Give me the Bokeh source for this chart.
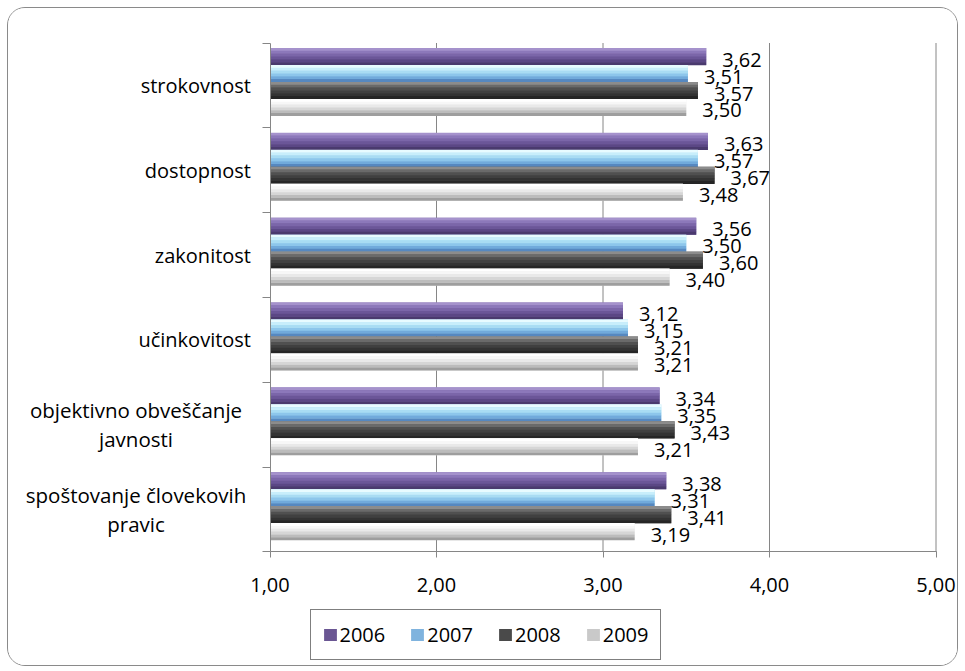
from bokeh.plotting import figure
from bokeh.models import Range1d, FixedTicker, Legend, LegendItem
from bokeh.core.properties import value
from bokeh.embed import file_html
from bokeh.resources import INLINE

# ---- data ----
categories = ["strokovnost", "dostopnost", "zakonitost", "učinkovitost",
              "objektivno obveščanje javnosti", "spoštovanje človekovih pravic"]
category_lines = [["strokovnost"], ["dostopnost"], ["zakonitost"], ["učinkovitost"],
                  ["objektivno obveščanje", "javnosti"], ["spoštovanje človekovih", "pravic"]]
years = ["2006", "2007", "2008", "2009"]
v2006 = [3.62, 3.63, 3.56, 3.12, 3.34, 3.38]
v2007 = [3.51, 3.57, 3.50, 3.15, 3.35, 3.31]
v2008 = [3.57, 3.67, 3.60, 3.21, 3.43, 3.41]
v2009 = [3.50, 3.48, 3.40, 3.21, 3.21, 3.19]
x_ticks = [1, 2, 3, 4, 5]
x_tick_labels = ["1,00", "2,00", "3,00", "4,00", "5,00"]

# ---- style / layout ----
FONT = "Open Sans"
GRID = "#868686"
gradients = [
    ["#a592cc", "#8c78ba", "#7b66a9", "#6b5698", "#5b4785", "#4a3a6e"],
    ["#e8fbff", "#c8eefb", "#a9dcf3", "#8dc6eb", "#71aadb", "#5688c0"],
    ["#8c8c8c", "#6a6a6a", "#505050", "#404040", "#333333", "#252525"],
    ["#ffffff", "#f7f7f7", "#e9e9e9", "#d6d6d6", "#bcbcbc", "#9e9e9e"],
]
swatches = ["#6a5693", "#7fb3de", "#4a4a4a", "#c9c9c9"]

W, H = 951, 659
X0_PX, X_PPU = 261.5, 166.5      # canvas px of x=1, px per x unit
Y6_PX, Y_PPU = 34.5, 84.83       # canvas px of top category boundary, px per y unit
n_cat = len(categories)

x_start = 1 - X0_PX / X_PPU
x_end = x_start + W / X_PPU
y_end = n_cat + Y6_PX / Y_PPU
y_start = y_end - H / Y_PPU

p = figure(width=W, height=H, output_backend="svg", toolbar_location=None,
           x_range=Range1d(x_start, x_end), y_range=Range1d(y_start, y_end),
           min_border=0, min_border_left=0, min_border_right=0,
           min_border_top=0, min_border_bottom=0)
p.styles = {"border": "1.5px solid #8a8a8a", "border-radius": "18px",
            "overflow": "hidden", "margin": "7px 0 0 7px"}
p.background_fill_color = "white"
p.border_fill_color = "white"
p.outline_line_color = None
p.xgrid.grid_line_color = None
p.ygrid.grid_line_color = None

# x axis fixed at y=0
p.xaxis.fixed_location = 0
p.xaxis.bounds = (x_ticks[0], x_ticks[-1])
p.xaxis.ticker = FixedTicker(ticks=x_ticks)
p.xaxis.major_label_overrides = dict(zip(x_ticks, x_tick_labels))
p.xaxis.axis_line_color = GRID
p.xaxis.major_tick_line_color = GRID
p.xaxis.major_tick_out = 6
p.xaxis.major_tick_in = 0
p.xaxis.minor_tick_line_color = None
p.xaxis.major_label_text_font = FONT
p.xaxis.major_label_text_font_size = "20px"
p.xaxis.major_label_text_color = "black"
p.xaxis.major_label_standoff = 20

# y axis fixed at x=1, ticks at category boundaries
p.yaxis.fixed_location = 1
p.yaxis.bounds = (0, n_cat)
p.yaxis.ticker = FixedTicker(ticks=list(range(n_cat + 1)))
p.yaxis.major_label_overrides = {i: "" for i in range(n_cat + 1)}
p.yaxis.axis_line_color = GRID
p.yaxis.major_tick_line_color = GRID
p.yaxis.major_tick_out = 8
p.yaxis.major_tick_in = 0
p.yaxis.minor_tick_line_color = None

# vertical gridlines at the x ticks, spanning the category area only
gx = x_ticks[1:]
p.segment(x0=gx, y0=[0] * len(gx), x1=gx, y1=[n_cat] * len(gx),
          line_color=GRID, line_width=1)

series = [v2006, v2007, v2008, v2009]
bar_h = 0.2
legend_items = []
for k, (yr, vals) in enumerate(zip(years, series)):
    ys = [n_cat - 0.5 - i + (1.5 - k) * bar_h + 0.04 for i in range(n_cat)]
    grad = gradients[k]
    n = len(grad)
    sh = bar_h / n
    p.hbar(y=ys, left=1, right=vals, height=bar_h, fill_color=grad[2], line_color=None)
    for j, col in enumerate(grad):
        sy = [y + bar_h / 2 - sh * (j + 0.5) for y in ys]
        p.hbar(y=sy, left=1, right=vals, height=sh * 1.05, fill_color=col, line_color=None)
    r = p.quad(left=[1], right=[1], top=[0], bottom=[0], fill_color=swatches[k],
               line_color=None)
    legend_items.append(LegendItem(label=yr, renderers=[r]))
    txt = [f"{v:.2f}".replace(".", ",") for v in vals]
    p.text(x=vals, y=ys, text=txt, x_offset=16, y_offset=3,
           text_baseline="middle", text_align="left",
           text_font=value(FONT), text_font_size="20px", text_color="black")

# category labels
right_x = 1 - 19 / X_PPU
center_x = 1 - 134 / X_PPU
dy = 14.5 / Y_PPU
for i, lines in enumerate(category_lines):
    yc = n_cat - 0.5 - i
    if len(lines) == 1:
        p.text(x=[right_x], y=[yc], text=lines, text_align="right", text_baseline="middle",
               text_font=value(FONT), text_font_size="20px", text_color="black")
    else:
        p.text(x=[center_x] * len(lines), y=[yc + dy - 2 * dy * j for j in range(len(lines))],
               text=lines, text_align="center", text_baseline="middle",
               text_font=value(FONT), text_font_size="20.5px", text_color="black")

legend = Legend(items=legend_items, orientation="horizontal",
                location=(310 - 8.5, H - (660 - 8.5)))
legend.border_line_color = "black"
legend.border_line_width = 1
legend.background_fill_color = "white"
legend.background_fill_alpha = 1
legend.label_text_font = FONT
legend.label_text_font_size = "20px"
legend.label_text_color = "black"
legend.glyph_width = 16
legend.glyph_height = 15
legend.label_standoff = 2
legend.spacing = 24
legend.padding = 11
legend.margin = 0
p.add_layout(legend)

open("out.html", "w").write(file_html(p, INLINE))
